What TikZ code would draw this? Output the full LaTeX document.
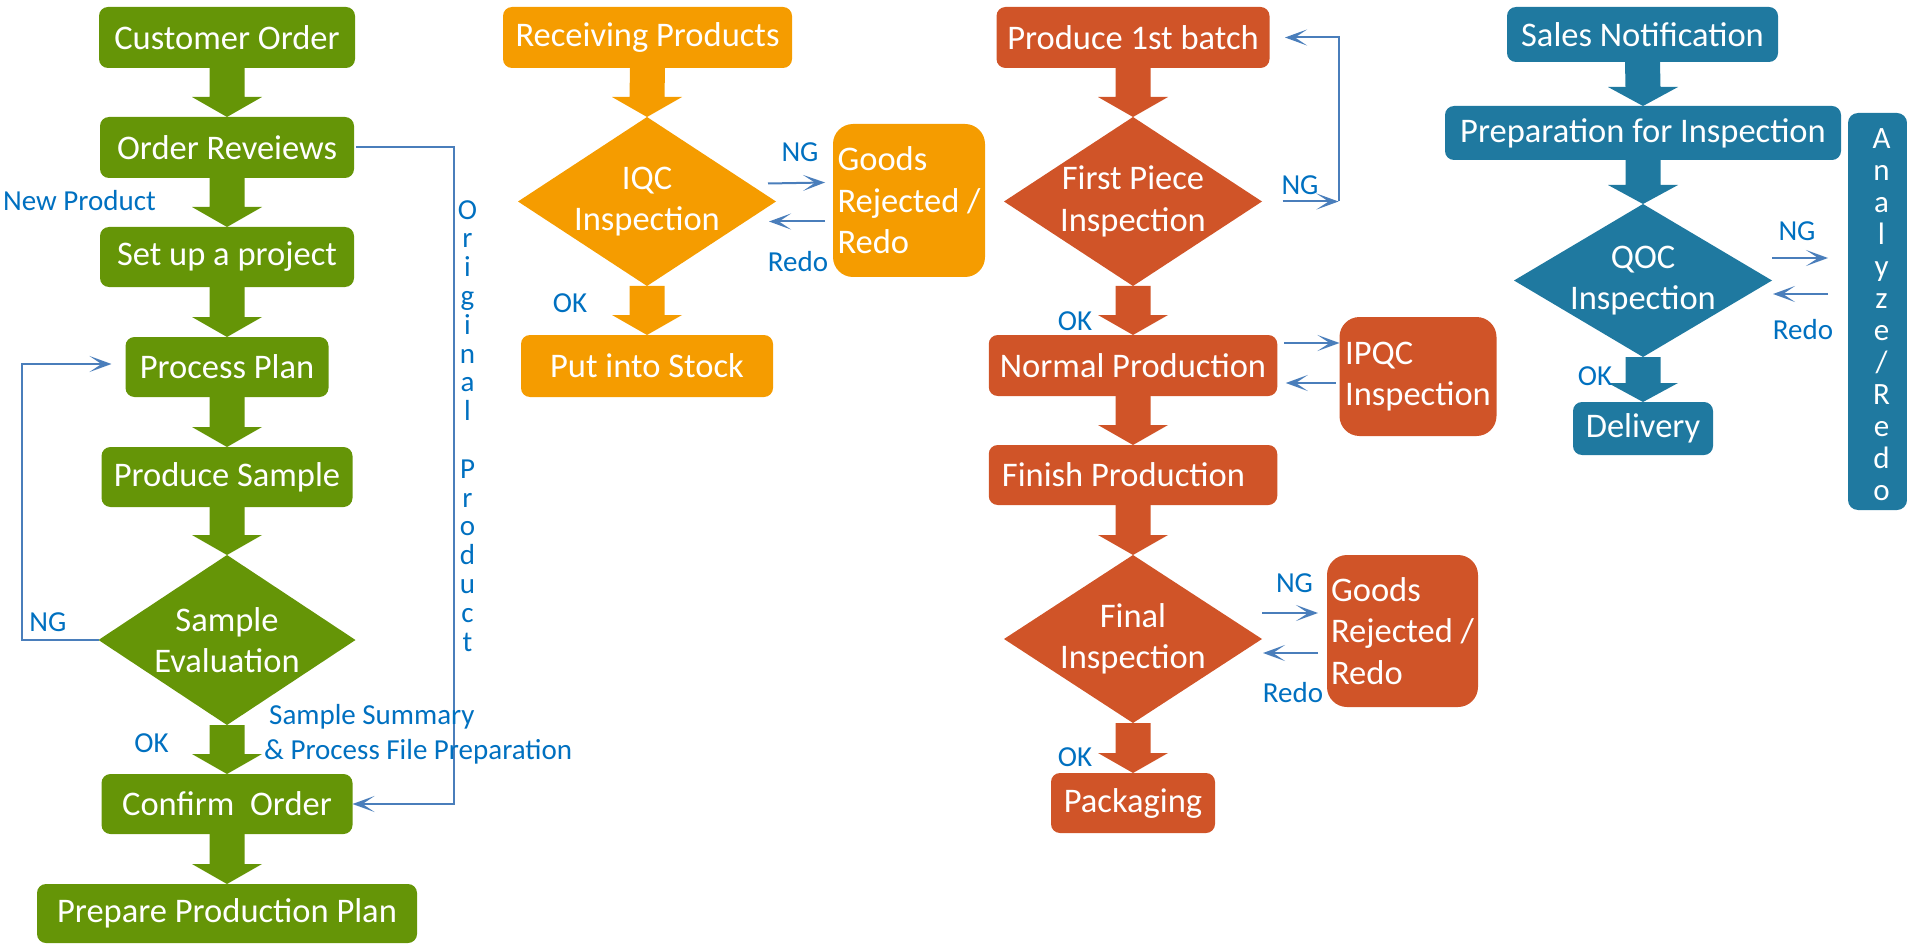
\documentclass[tikz,border=0pt]{standalone}
\usepackage{fontspec}
\setmainfont{Carlito}
\usetikzlibrary{shapes.geometric,arrows.meta,calc}

\definecolor{leafgreen}{HTML}{659507}
\definecolor{amber}{HTML}{F59C00}
\definecolor{rust}{HTML}{D05428}
\definecolor{seablue}{HTML}{1F79A0}
\definecolor{labelblue}{HTML}{0070C0}
\definecolor{linkblue}{HTML}{4A7EBB}

\newcommand{\boxsize}{\fontsize{34.5}{41.5}\selectfont}
\newcommand{\lblsize}{\fontsize{29}{35}\selectfont}

% fat flow arrow: colour, half shaft, half head, head length, from, to
\newcommand{\blockarrow}[6]{%
  \fill[#1] ($(#5)+(-#2,0)$) -- ($(#6)+(-#2,#4)$) -- ($(#6)+(-#3,#4)$) -- (#6)
    -- ($(#6)+(#3,#4)$) -- ($(#6)+(#2,#4)$) -- ($(#5)+(#2,0)$) -- cycle;}

\tikzset{
  box/.style={rounded corners=9pt, inner sep=0pt, outer sep=0pt, text=white, font=\boxsize, align=center},
  greenbox/.style={box, fill=leafgreen},
  amberbox/.style={box, fill=amber},
  rustbox/.style={box, fill=rust},
  bluebox/.style={box, fill=seablue},
  decision/.style={diamond, inner sep=0pt, outer sep=0pt},
  dtext/.style={text=white, font=\boxsize, align=center},
  lbl/.style={text=labelblue, font=\lblsize},
  link/.style={linkblue, line width=2pt},
  conn/.style={link, -{Stealth[length=22pt, width=16pt, inset=12pt]}},
}

\begin{document}
\begin{tikzpicture}[x=1pt, y=1pt]
    \useasboundingbox (0,0) rectangle (1907,-944);

    % Order column
    \node[greenbox, minimum width=256pt, minimum height=61pt] (order) at (227,-37.5) {Customer Order};
    \node[greenbox, minimum width=254pt, minimum height=61pt] (review) at (227,-147.5) {Order Reveiews};
    \node[greenbox, minimum width=254pt, minimum height=60pt] (project) at (227,-257) {Set up a project};
    \node[greenbox, minimum width=203pt, minimum height=60pt] (plan) at (227,-367) {Process Plan};
    \node[greenbox, minimum width=251pt, minimum height=60pt] (sample) at (227,-477) {Produce Sample};
    \node[decision, fill=leafgreen, minimum width=257pt, minimum height=170pt] (eval) at (227,-640) {};
    \node[dtext] (evaltext) at (eval) {Sample\\Evaluation};
    \node[greenbox, minimum width=251pt, minimum height=60pt] (confirm) at (227,-804) {Confirm\ \ Order};
    \node[greenbox, minimum width=380pt, minimum height=59pt] (prodplan) at (227,-913.5) {Prepare Production Plan};

    \blockarrow{leafgreen}{17.5}{35}{20}{order.south}{review.north}
    \blockarrow{leafgreen}{17.5}{35}{20}{review.south}{project.north}
    \blockarrow{leafgreen}{17.5}{35}{20}{project.south}{plan.north}
    \blockarrow{leafgreen}{17.5}{35}{20}{plan.south}{sample.north}
    \blockarrow{leafgreen}{17.5}{35}{20}{sample.south}{eval.north}
    \blockarrow{leafgreen}{17.5}{35}{20}{eval.south}{confirm.north}
    \blockarrow{leafgreen}{17.5}{35}{20}{confirm.south}{prodplan.north}

    \coordinate (origturn) at (453.5,-147.5);
    \draw[conn] ([xshift=2pt]review.east) -- (origturn) |- (confirm.east);
    \coordinate (ngturn) at (22,-640);
    \draw[conn] (eval.west) -- (ngturn) |- ([xshift=-14pt,yshift=3pt]plan.west);

    \node[lbl] (newlbl) at (79.5,-201) {New Product};
    \node[lbl] (evalng) at (48,-622) {NG};
    \node[lbl] (evalok) at (151.5,-743) {OK};
    \node[lbl, align=left, anchor=north west, inner sep=0pt] (summarylbl) at (264,-704)
        {\hspace*{5pt}Sample Summary\\\& Process File Preparation};
    \node[lbl, align=center, anchor=north, inner sep=0pt, font=\fontsize{29}{28.8}\selectfont] (origlbl) at (467.5,-200)
        {O\\r\\i\\g\\i\\n\\a\\l\\[28.8pt]P\\r\\o\\d\\u\\c\\t};

    % Incoming column
    \node[amberbox, minimum width=289pt, minimum height=61pt] (recv) at (647.5,-37.5) {Receiving Products};
    \node[decision, fill=amber, minimum width=258pt, minimum height=169pt] (iqc) at (647,-201.5) {};
    \node[dtext] (iqctext) at (iqc) {IQC\\Inspection};
    \node[amberbox, rounded corners=20pt, align=left, minimum width=152pt, minimum height=153pt] (rej1) at (909,-200.5)
        {Goods\\Rejected /\\Redo};
    \node[amberbox, minimum width=252pt, minimum height=62pt] (stock) at (647,-366) {Put into Stock};

    \blockarrow{amber}{17.5}{35}{20}{recv.south}{iqc.north}
    \blockarrow{amber}{17.5}{35}{20}{iqc.south}{stock.north}

    \draw[conn] ($(iqc.east)+(-8,18)$) -- ($(rej1.west)+(-8,18)$);
    \draw[conn] ($(rej1.west)+(-8,-21)$) -- ($(iqc.east)+(-7,-20)$);

    \node[lbl] (iqcng) at (800,-152) {NG};
    \node[lbl] (iqcredo) at (798,-262) {Redo};
    \node[lbl] (iqcok) at (570,-303) {OK};

    % Production column
    \node[rustbox, minimum width=273pt, minimum height=61pt] (batch) at (1133,-37.5) {Produce 1st batch};
    \node[decision, fill=rust, minimum width=258pt, minimum height=169pt] (fp) at (1133,-201.5) {};
    \node[dtext] (fptext) at (fp) {First Piece\\Inspection};
    \node[rustbox, minimum width=288.5pt, minimum height=61pt] (normal) at (1133,-365.5) {Normal Production};
    \node[rustbox, rounded corners=20pt, align=left, minimum width=157pt, minimum height=119pt] (ipqc) at (1418,-376.5)
        {IPQC\\Inspection};
    \node[rustbox, minimum width=288.5pt, minimum height=60pt] (finish) at (1133,-475) {Finish Production\hspace*{19pt}};
    \node[decision, fill=rust, minimum width=258pt, minimum height=168pt] (final) at (1133,-639) {};
    \node[dtext] (finaltext) at (final) {Final\\Inspection};
    \node[rustbox, rounded corners=20pt, align=left, minimum width=151pt, minimum height=152pt] (rej2) at (1402.5,-631)
        {Goods\\Rejected /\\Redo};
    \node[rustbox, minimum width=164pt, minimum height=60pt] (pack) at (1133,-803) {Packaging};

    \blockarrow{rust}{17.5}{35}{20}{batch.south}{fp.north}
    \blockarrow{rust}{17.5}{35}{20}{fp.south}{normal.north}
    \blockarrow{rust}{17.5}{35}{20}{normal.south}{finish.north}
    \blockarrow{rust}{17.5}{35}{20}{finish.south}{final.north}
    \blockarrow{rust}{17.5}{35}{20}{final.south}{pack.north}

    \coordinate (fpturn) at (1338.5,-201.5);
    \draw[conn] ($(fp.east)+(20.5,0)$) -- (fpturn);
    \draw[conn] (fpturn) |- ($(batch.east)+(15.5,0)$);
    \draw[conn] ($(normal.east)+(7,22.5)$) -- ($(ipqc.west)+(0,33.5)$);
    \draw[conn] ($(ipqc.west)+(-4,-6.5)$) -- ($(normal.east)+(8.5,-17.5)$);
    \draw[conn] ($(final.east)+(0,26)$) -- ($(rej2.west)+(-9,18)$);
    \draw[conn] ($(rej2.west)+(-9,-22)$) -- ($(final.east)+(1,-14)$);

    \node[lbl] (fpng) at (1300,-185) {NG};
    \node[lbl] (fpok) at (1075,-321) {OK};
    \node[lbl] (finalng) at (1294.5,-583) {NG};
    \node[lbl] (finalredo) at (1293,-693) {Redo};
    \node[lbl] (finalok) at (1075,-757) {OK};

    % Shipping column
    \node[bluebox, minimum width=271pt, minimum height=55pt] (sales) at (1642.5,-34.5) {Sales Notification};
    \node[bluebox, minimum width=396pt, minimum height=54pt] (prep) at (1643,-133) {Preparation for Inspection};
    \node[decision, fill=seablue, minimum width=258pt, minimum height=153pt] (qoc) at (1643,-280.5) {};
    \node[dtext] (qoctext) at (qoc) {QOC\\Inspection};
    \node[bluebox, minimum width=140pt, minimum height=53pt] (deliv) at (1643,-428.5) {Delivery};
    \node[bluebox, rounded corners=10pt, minimum width=59pt, minimum height=397pt] (analyze) at (1877.5,-311.5) {};
    \node[dtext, anchor=north, inner sep=0pt, font=\fontsize{31}{32}\selectfont] (analyzetext) at (1881.5,-128)
        {A\\n\\a\\l\\y\\z\\e\\/\\R\\e\\d\\o};

    \blockarrow{seablue}{17.5}{35}{19}{sales.south}{prep.north}
    \blockarrow{seablue}{17.5}{35}{19}{prep.south}{qoc.north}
    \blockarrow{seablue}{17.5}{35}{19}{qoc.south}{deliv.north}

    \draw[conn] ($(qoc.east)+(0,22.5)$) -- ($(analyze.west)+(-20,53.5)$);
    \draw[conn] ($(analyze.west)+(-20,17.5)$) -- ($(qoc.east)+(1,-13.5)$);

    \node[lbl] (qocng) at (1797,-231) {NG};
    \node[lbl] (qocredo) at (1803,-330) {Redo};
    \node[lbl] (qocok) at (1595,-376) {OK};
\end{tikzpicture}
\end{document}
